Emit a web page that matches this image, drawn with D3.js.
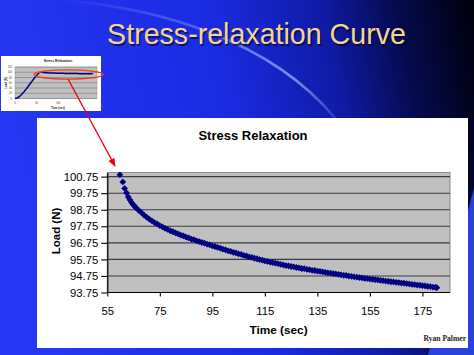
<!DOCTYPE html>
<html><head><meta charset="utf-8">
<script src="https://cdn.jsdelivr.net/npm/d3@7"></script>
<style>html,body{margin:0;padding:0;background:#000;overflow:hidden}</style>
</head><body><svg id="c" width="474" height="355"></svg>
<script>
// ---------- data ----------
const slideTitle = "Stress-relaxation Curve";
const chartTitle = "Stress Relaxation";
const xTitle = "Time (sec)";
const yTitle = "Load (N)";
const author = "Ryan Palmer";
const yTicks = [93.75, 94.75, 95.75, 96.75, 97.75, 98.75, 99.75, 100.75];
const yTickLabels = ["93.75", "94.75", "95.75", "96.75", "97.75", "98.75", "99.75", "100.75"];
const xTicks = [55, 75, 95, 115, 135, 155, 175];
const xTickLabels = ["55", "75", "95", "115", "135", "155", "175"];
const times = [59.8, 60.9, 61.6, 62.3, 63, 63.6, 64.2, 64.8, 65.4,
  66, 67, 68, 69, 70, 71, 72, 73, 74, 75, 76, 77, 78, 79, 80, 81, 82, 83, 84, 85,
  86, 87, 88, 89, 90, 91, 92, 93, 94, 95, 96, 97, 98, 99, 100, 101, 102, 103, 104, 105,
  106, 107, 108, 109, 110, 111, 112, 113, 114, 115, 116, 117, 118, 119, 120, 121, 122, 123, 124, 125,
  126, 127, 128, 129, 130, 131, 132, 133, 134, 135, 136, 137, 138, 139, 140, 141, 142, 143, 144, 145,
  146, 147, 148, 149, 150, 151, 152, 153, 154, 155, 156, 157, 158, 159, 160, 161, 162, 163, 164, 165,
  166, 167, 168, 169, 170, 171, 172, 173, 174, 175, 176, 177, 178, 179, 180, 180.5];
const loads = [100.86, 100.43, 100.04, 99.77, 99.52, 99.35, 99.20, 99.07, 98.96,
  98.86, 98.71, 98.57, 98.42, 98.30, 98.18, 98.08, 97.97, 97.89, 97.79, 97.72, 97.63, 97.56, 97.48, 97.42, 97.35, 97.29, 97.22, 97.17, 97.10,
  97.05, 96.98, 96.94, 96.87, 96.83, 96.77, 96.73, 96.67, 96.63, 96.57, 96.53, 96.47, 96.43, 96.37, 96.33, 96.27, 96.23, 96.17, 96.14, 96.08,
  96.05, 95.99, 95.96, 95.90, 95.87, 95.82, 95.79, 95.74, 95.71, 95.66, 95.63, 95.59, 95.56, 95.52, 95.49, 95.45, 95.42, 95.38, 95.36, 95.32,
  95.30, 95.26, 95.24, 95.20, 95.19, 95.15, 95.13, 95.09, 95.08, 95.04, 95.02, 94.99, 94.97, 94.94, 94.92, 94.89, 94.87, 94.84, 94.82, 94.79,
  94.78, 94.74, 94.73, 94.70, 94.68, 94.65, 94.64, 94.60, 94.59, 94.56, 94.55, 94.52, 94.51, 94.48, 94.47, 94.44, 94.43, 94.40, 94.39, 94.36,
  94.35, 94.32, 94.31, 94.28, 94.27, 94.24, 94.23, 94.20, 94.19, 94.16, 94.15, 94.12, 94.11, 94.08, 94.06, 94.04];
// thumbnail (full test: loading ramp + relaxation)
const rampTimes = [0, 5, 10, 15, 20, 25, 30, 35, 40, 45, 50, 55, 58];
const rampLoads = [0, 2, 7, 15, 24, 34, 45, 56, 67, 78, 88, 97, 100.5];
const thumbYTicks = [0, 20, 40, 60, 80, 100, 120];
const thumbXTicks = [0, 50, 100];

// ---------- drawing ----------
const svg = d3.select("#c");
const defs = svg.append("defs");
const bg = defs.append("linearGradient").attr("id", "bg")
  .attr("x1", 0).attr("y1", 0.15).attr("x2", 1).attr("y2", 0);
[[0, "#2636f2"], [0.45, "#1b2be2"], [0.68, "#0f1ba6"], [0.84, "#050a4c"], [1, "#00000a"]]
  .forEach(([o, c]) => bg.append("stop").attr("offset", o).attr("stop-color", c));
svg.append("rect").attr("width", 474).attr("height", 355).attr("fill", "url(#bg)");
// lighter region bottom-right
svg.append("path").attr("d", "M474,188 Q452,270 428,355 L474,355 Z").attr("fill", "#2c48ea").attr("opacity", 0.9);
// swoosh
const sw = defs.append("linearGradient").attr("id", "sw").attr("x1", 0).attr("y1", 0).attr("x2", 1).attr("y2", 0);
[[0, 0], [0.5, 0.35], [0.85, 0.7], [1, 0.2]].forEach(([o, a]) =>
  sw.append("stop").attr("offset", o).attr("stop-color", "#a8c0ff").attr("stop-opacity", a));
svg.append("path").attr("d", "M60,0 C160,8 270,40 335,118").attr("fill", "none")
  .attr("stroke", "url(#sw)").attr("stroke-width", 2.6);

// slide title
svg.append("text").attr("x", 258).attr("y", 45.5).attr("text-anchor", "middle")
  .attr("font-family", "Liberation Sans, Arial, sans-serif").attr("font-size", 28.6)
  .attr("fill", "#000030").attr("opacity", 0.6).text(slideTitle);
svg.append("text").attr("x", 256.5).attr("y", 44).attr("text-anchor", "middle")
  .attr("font-family", "Liberation Sans, Arial, sans-serif").attr("font-size", 28.6)
  .attr("fill", "#f3d68e").text(slideTitle);

// ---------- thumbnail ----------
const th = svg.append("g");
th.append("rect").attr("x", 1).attr("y", 56).attr("width", 100).attr("height", 55).attr("fill", "#ffffff");
const tx = d3.scaleLinear().domain([0, 190]).range([15, 97]);
const ty = d3.scaleLinear().domain([0, 120]).range([98.5, 67]);
th.append("rect").attr("x", 15).attr("y", 67).attr("width", 82).attr("height", 31.5).attr("fill", "#c0c0c0").attr("stroke", "#909090").attr("stroke-width", 0.4);
th.selectAll(".tg").data(thumbYTicks).join("line").attr("x1", 15).attr("x2", 97)
  .attr("y1", d => ty(d)).attr("y2", d => ty(d)).attr("stroke", "#555").attr("stroke-width", 0.4);
th.selectAll(".tyl").data(thumbYTicks).join("text").attr("x", 12).attr("y", d => ty(d) + 1)
  .attr("text-anchor", "end").attr("font-size", 2.6).attr("font-family", "Liberation Sans, Arial").attr("fill", "#333").text(d => d);
th.selectAll(".txl").data(thumbXTicks).join("text").attr("x", d => tx(d)).attr("y", 103.5)
  .attr("text-anchor", "middle").attr("font-size", 2.6).attr("font-family", "Liberation Sans, Arial").attr("fill", "#333").text(d => d);
th.append("text").attr("x", 58).attr("y", 62).attr("text-anchor", "middle").attr("font-size", 3.4)
  .attr("font-weight", "bold").attr("font-family", "Liberation Sans, Arial").attr("fill", "#222").text(chartTitle);
th.append("text").attr("x", 58).attr("y", 108.5).attr("text-anchor", "middle").attr("font-size", 2.8)
  .attr("font-weight", "bold").attr("font-family", "Liberation Sans, Arial").attr("fill", "#222").text(xTitle);
th.append("text").attr("transform", "translate(7,83) rotate(-90)").attr("text-anchor", "middle").attr("font-size", 2.8)
  .attr("font-weight", "bold").attr("font-family", "Liberation Sans, Arial").attr("fill", "#222").text(yTitle);
const fullT = rampTimes.concat(times), fullL = rampLoads.concat(loads);
th.append("path").datum(d3.zip(fullT, fullL)).attr("fill", "none").attr("stroke", "#000080").attr("stroke-width", 1.5)
  .attr("d", d3.line().x(d => tx(d[0])).y(d => ty(d[1])));
// red ellipse
svg.append("ellipse").attr("cx", 68.5).attr("cy", 74.5).attr("rx", 34.5).attr("ry", 4.6)
  .attr("fill", "none").attr("stroke", "#e8451c").attr("stroke-width", 1.4);

// ---------- main panel ----------
svg.append("rect").attr("x", 37).attr("y", 118).attr("width", 431).attr("height", 230).attr("fill", "#ffffff");
const x = d3.scaleLinear().domain([55, 185.5]).range([107.3, 450]);
const y = d3.scaleLinear().domain([93.75, 101]).range([292.5, 172.5]);
const font = "Liberation Sans, Arial, Helvetica, sans-serif";
svg.append("rect").attr("x", x(55)).attr("y", y(101)).attr("width", x(185.5) - x(55)).attr("height", y(93.75) - y(101))
  .attr("fill", "#c0c0c0").attr("stroke", "#8c8c8c").attr("stroke-width", 1);
svg.append("g").selectAll("line").data(yTicks.slice(1)).join("line")
  .attr("x1", x(55)).attr("x2", x(185.5)).attr("y1", d => y(d)).attr("y2", d => y(d))
  .attr("stroke", "#3c3c3c").attr("stroke-width", 1.1);

const ya = svg.append("g").attr("transform", `translate(${x(55)},0)`)
  .call(d3.axisLeft(y).tickValues(yTicks).tickFormat((d, i) => yTickLabels[i]).tickSize(6).tickSizeOuter(0).tickPadding(3));
const xa = svg.append("g").attr("transform", `translate(0,${y(93.75)})`)
  .call(d3.axisBottom(x).tickValues(xTicks).tickFormat((d, i) => xTickLabels[i]).tickSize(4).tickSizeOuter(0).tickPadding(10));
[ya, xa].forEach(a => {
  a.select(".domain").attr("stroke", "#000").attr("stroke-width", 1.2);
  a.selectAll(".tick line").attr("stroke", "#000").attr("stroke-width", 1.1);
  a.selectAll(".tick text").attr("font-family", font).attr("font-size", 11.3).attr("fill", "#000");
});
xa.select(".domain").attr("d", `M${x(55)},0H${x(185.5)}`);

// markers
const diamond = d3.symbol(d3.symbolSquare, 23);
svg.append("g").selectAll("path").data(d3.zip(times, loads)).join("path")
  .attr("d", diamond)
  .attr("transform", d => `translate(${x(d[0])},${y(d[1])}) rotate(45)`)
  .attr("fill", "#000080");

// titles
svg.append("text").attr("x", 253).attr("y", 140).attr("text-anchor", "middle").attr("font-family", font)
  .attr("font-size", 13).attr("font-weight", "bold").attr("fill", "#000").text(chartTitle);
svg.append("text").attr("x", 278.5).attr("y", 333.5).attr("text-anchor", "middle").attr("font-family", font)
  .attr("font-size", 11.8).attr("font-weight", "bold").attr("fill", "#000").text(xTitle);
svg.append("text").attr("transform", "translate(59.5,231) rotate(-90)").attr("text-anchor", "middle").attr("font-family", font)
  .attr("font-size", 11.5).attr("font-weight", "bold").attr("fill", "#000").text(yTitle);
svg.append("text").attr("x", 466).attr("y", 341).attr("text-anchor", "end").attr("font-family", "Liberation Serif, Times New Roman, serif")
  .attr("font-size", 7.6).attr("font-weight", "bold").attr("fill", "#222").text(author);

// red arrow
defs.append("marker").attr("id", "ah").attr("viewBox", "0 0 10 10").attr("refX", 9).attr("refY", 5)
  .attr("markerWidth", 6).attr("markerHeight", 6).attr("orient", "auto")
  .append("path").attr("d", "M0,1 L10,5 L0,9 Z").attr("fill", "#e00c0c");
svg.append("line").attr("x1", 68).attr("y1", 79).attr("x2", 115).attr("y2", 166)
  .attr("stroke", "#e00c0c").attr("stroke-width", 1.4).attr("marker-end", "url(#ah)");
</script></body></html>
